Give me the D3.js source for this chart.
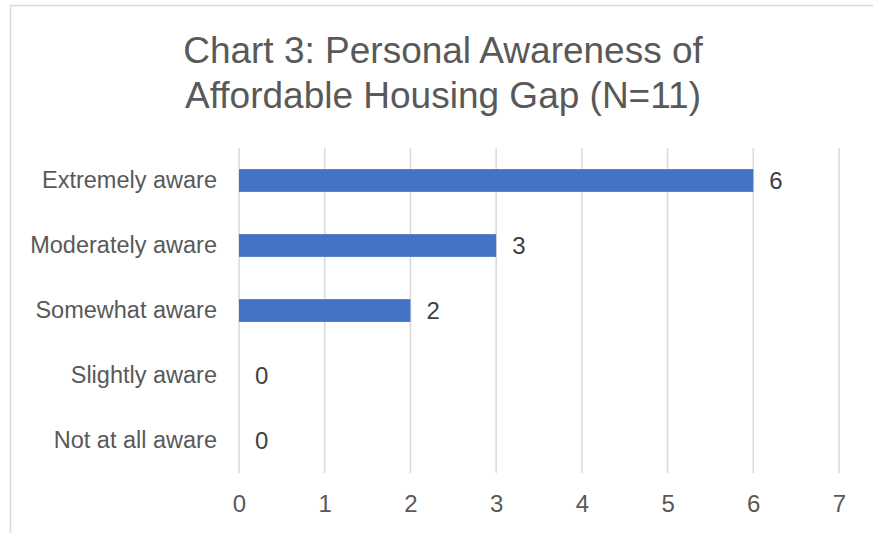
<!DOCTYPE html>
<html>
<head>
<meta charset="utf-8">
<script src="https://cdn.jsdelivr.net/npm/d3@7"></script>
<style>
  body { margin: 0; background: #fff; }
  text { font-family: "Liberation Sans", Arial, sans-serif; }
</style>
</head>
<body>
<div id="chart"></div>
<script>
// chart values
const categories = ["Extremely aware", "Moderately aware", "Somewhat aware", "Slightly aware", "Not at all aware"];
const counts = [6, 3, 2, 0, 0];
const xTicks = [0, 1, 2, 3, 4, 5, 6, 7];
const titleLines = ["Chart 3: Personal Awareness of", "Affordable Housing Gap (N=11)"];

const width = 873, height = 533;
const plot = { left: 239, right: 839, top: 148, bottom: 473 };

const svg = d3.select("#chart")
  .append("svg")
  .attr("width", width)
  .attr("height", height);

// chart area border (cropped at right and bottom)
svg.append("rect")
  .attr("x", 10.5)
  .attr("y", 5.5)
  .attr("width", width + 20)
  .attr("height", height + 20)
  .attr("fill", "white")
  .attr("stroke", "#d9d9d9")
  .attr("stroke-width", 1.5);

// title
svg.append("g")
  .selectAll("text")
  .data(titleLines)
  .join("text")
  .attr("x", 443)
  .attr("y", (d, i) => 63 + i * 45)
  .attr("text-anchor", "middle")
  .attr("fill", "#595959")
  .attr("font-size", "37px")
  .text(d => d);

const x = d3.scaleLinear()
  .domain([0, 7])
  .range([plot.left, plot.right]);

const y = d3.scaleBand()
  .domain(categories)
  .range([plot.top, plot.bottom])
  .paddingInner(0.65)
  .paddingOuter(0.325);

// gridlines
svg.append("g")
  .selectAll("line")
  .data(xTicks)
  .join("line")
  .attr("x1", d => x(d))
  .attr("x2", d => x(d))
  .attr("y1", plot.top)
  .attr("y2", plot.bottom)
  .attr("stroke", "#d9d9d9")
  .attr("stroke-width", 1.5);

// x axis tick labels
const xAxis = svg.append("g")
  .attr("transform", `translate(0,${plot.bottom})`)
  .call(d3.axisBottom(x).tickValues(xTicks).tickFormat(d3.format("d")).tickSize(0).tickPadding(22));
xAxis.select(".domain").remove();
xAxis.selectAll("text")
  .attr("font-family", "Liberation Sans, Arial, sans-serif")
  .attr("font-size", "24px")
  .attr("fill", "#595959");

// y axis category labels
const yAxis = svg.append("g")
  .attr("transform", `translate(${plot.left},0)`)
  .call(d3.axisLeft(y).tickSize(0).tickPadding(22));
yAxis.select(".domain").remove();
yAxis.selectAll("text")
  .attr("font-family", "Liberation Sans, Arial, sans-serif")
  .attr("font-size", "23.5px")
  .attr("fill", "#595959");

// bars
svg.append("g")
  .selectAll("rect")
  .data(categories)
  .join("rect")
  .attr("x", x(0))
  .attr("y", d => y(d))
  .attr("width", (d, i) => x(counts[i]) - x(0))
  .attr("height", y.bandwidth())
  .attr("fill", "#4472c4");

// data labels
svg.append("g")
  .selectAll("text")
  .data(categories)
  .join("text")
  .attr("x", (d, i) => x(counts[i]) + 16)
  .attr("y", d => y(d) + y.bandwidth() / 2)
  .attr("dy", "0.35em")
  .attr("fill", "#404040")
  .attr("font-size", "24px")
  .text((d, i) => counts[i]);
</script>
</body>
</html>
